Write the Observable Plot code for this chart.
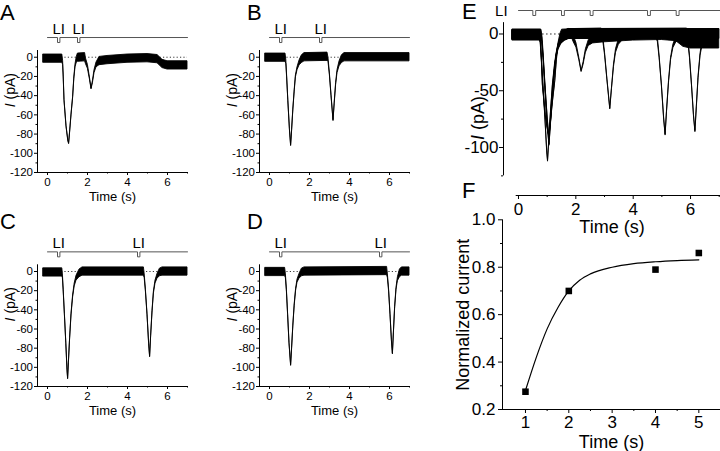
<!DOCTYPE html>
<html><head><meta charset="utf-8">
<script src="https://cdn.jsdelivr.net/npm/d3@7"></script>
<script src="https://cdn.jsdelivr.net/npm/@observablehq/plot@0.6"></script>
<style>
html,body{margin:0;padding:0;background:#fff;}
#fig{position:relative;width:720px;height:451px;overflow:hidden;font-family:'Liberation Sans',Arial,Helvetica,sans-serif;background:#fff;}
.letter{position:absolute;font-size:22px;line-height:1;color:#000;}
</style></head><body><div id="fig"></div>
<script>
// ---------- data ----------
// current traces: [time (s), centre current (pA), noise half-width (pA)]
const traceA = [
 [-0.2,-1.5,4.3],[0.74,-1.5,4.3],[0.78,-6,2],[0.81,-20,1],[0.85,-45,0.5],[0.95,-72,0.5],[1.04,-87,0.5],[1.08,-90,0.5],
 [1.13,-78,0.5],[1.2,-60,0.5],[1.28,-42,0.6],[1.34,-22,1],[1.4,-9,1.5],[1.46,-3,3],[1.52,-0.5,4.3],
 [1.88,0,4.3],[1.92,-4,3],[2.02,-10,2],[2.12,-22,1],[2.2,-33,0.5],[2.27,-26,1],[2.35,-15,1.5],[2.45,-8,2.5],[2.6,-4,4.3],
 [3,-3,4.3],[4,-1.5,4.3],[5,-1,4.3],[5.5,-2,4.3],[5.75,-7,4.3],[6,-8.5,4.3],[7,-8.5,4.3]
];
const traceB = [
 [-0.2,-0.5,4.3],[0.8,-0.5,4.3],[0.84,-5,2],[0.88,-20,1],[0.94,-45,0.5],[1.02,-75,0.5],[1.08,-92,0.5],[1.13,-76,0.5],
 [1.19,-55,0.5],[1.26,-35,0.8],[1.32,-20,1],[1.4,-12,1.5],[1.5,-6,2.5],[1.62,-2,4],[1.75,0,4.3],
 [2.9,0.5,4.3],[2.95,-3,2],[3.02,-18,1],[3.1,-40,0.5],[3.2,-66,0.5],[3.26,-48,0.5],[3.33,-28,1],[3.4,-15,1.5],
 [3.5,-7,2.5],[3.62,-2,4],[3.75,0,4.3],[7,0,4.3]
];
const traceC = [
 [-0.2,-1,4.3],[0.74,-1,4.3],[0.77,-5,2],[0.81,-20,1],[0.87,-45,0.5],[0.94,-75,0.5],[1.0,-103,0.5],[1.03,-112,0.5],
 [1.07,-95,0.5],[1.13,-70,0.5],[1.2,-45,0.8],[1.28,-26,1],[1.36,-14,1.5],[1.45,-7,2.5],[1.6,-2,4],[1.75,0,4.3],
 [4.82,0,4.3],[4.86,-5,2],[4.92,-20,1],[5.0,-45,0.5],[5.08,-75,0.5],[5.13,-89,0.5],[5.18,-68,0.5],[5.25,-42,0.8],
 [5.32,-22,1],[5.4,-11,1.5],[5.5,-5,2.5],[5.62,-1,4],[5.75,0,4.3],[7,0,4.3]
];
const traceD = [
 [-0.2,-0.5,4.3],[0.78,-0.5,4.3],[0.82,-5,2],[0.87,-20,1],[0.93,-45,0.5],[1.0,-75,0.5],[1.08,-98,0.5],[1.13,-80,0.5],
 [1.19,-57,0.5],[1.26,-35,0.8],[1.33,-19,1],[1.4,-10,1.5],[1.5,-5,2.5],[1.62,-1,4],[1.75,0,4.3],
 [5.88,0.5,4.3],[5.92,-5,2],[5.98,-20,1],[6.05,-45,0.5],[6.12,-72,0.5],[6.17,-86,0.5],[6.22,-64,0.5],[6.28,-38,0.8],
 [6.35,-18,1],[6.42,-8,2],[6.52,-2,4],[6.62,0,4.3],[7,0,4.3]
];
// light stimulus onsets (s)
const stimA = [0.5, 1.5];
const stimB = [0.5, 2.5];
const stimC = [0.5, 4.5];
const stimD = [0.5, 5.5];
const stimE = [0.5, 1.5, 2.5, 4.5, 5.5];
// panel F
const fTime = [1, 2, 4, 5];
const fNorm = [0.275, 0.70, 0.79, 0.86];
const fitTime = [1, 1.25, 1.5, 1.75, 2, 2.25, 2.5, 3, 3.5, 4, 4.5, 5];
const fitNorm = [0.28, 0.42, 0.54, 0.63, 0.70, 0.745, 0.772, 0.80, 0.815, 0.823, 0.828, 0.831];
// ticks
const smallYTicks = [-120, -100, -80, -60, -40, -20, 0];
const smallYMinor = [-110, -90, -70, -50, -30, -10];
const smallXTicks = [0, 2, 4, 6];
const smallXMinor = [1, 3, 5, 7];
const eYTicks = [0, -50, -100];
const eYMinor = [-25, -75, -125];
const eXTicks = [0, 2, 4, 6];
const eXMinor = [1, 3, 5, 7];
const fYTicks = [0.2, 0.4, 0.6, 0.8, 1.0];
const fYMinor = [0.3, 0.5, 0.7, 0.9];
const fXTicks = [1, 2, 3, 4, 5];
const fXMinor = [1.5, 2.5, 3.5, 4.5, 5.5];

// ---------- drawing ----------
const FONT = "'Liberation Sans', Arial, Helvetica, sans-serif";
const fig = document.getElementById("fig");
function place(node, left, top) {
  node.style.position = "absolute";
  node.style.left = left + "px";
  node.style.top = top + "px";
  fig.appendChild(node);
}
function letter(ch, left, top) {
  const d = document.createElement("div");
  d.className = "letter"; d.textContent = ch;
  d.style.left = left + "px"; d.style.top = top + "px";
  fig.appendChild(d);
}
const lo = d => d[1] - d[2], hi = d => d[1] + d[2];
function stimPath(pulses, S, P, w, t0, t1) {
  const pts = [[t0, S]];
  for (const p of pulses) pts.push([p, S], [p, P], [p + w, P], [p + w, S]);
  pts.push([t1, S]);
  return pts;
}
const numFmt = d => String(d);
const blank = () => "";
const baseStyle = {background: "transparent", overflow: "visible", fontFamily: FONT, color: "#000"};

function traceMark(tr) {
  return Plot.areaY(tr, {x: d => d[0], y1: lo, y2: hi, fill: "#000", stroke: "#000", strokeWidth: 0.9});
}

function smallPanel(trace, pulses, ml, height, mt, fb) {
  return Plot.plot({
    width: 230, height, marginLeft: ml, marginRight: 230 - ml - 150, marginTop: mt, marginBottom: height - fb,
    x: {domain: [-0.5, 7]}, y: {domain: [-120, 7]},
    style: baseStyle,
    marks: [
      Plot.ruleY([0], {x1: 0.7, x2: 7, stroke: "#222", strokeDasharray: "1.2,2.2", strokeWidth: 0.9}),
      traceMark(trace),
      Plot.line(stimPath(pulses, 20.5, 15.3, 0.12, 0, 7), {x: d => d[0], y: d => d[1], stroke: "#555", strokeWidth: 1}),
      Plot.text(pulses, {x: p => p + 0.06, y: () => 29.3, text: () => "LI", fontSize: 15, textAnchor: "middle", lineAnchor: "middle"}),
      Plot.ruleX([-0.5], {y1: -120, y2: 7, stroke: "#000"}),
      Plot.ruleY([-120], {x1: -0.5, x2: 7, stroke: "#000"}),
      Plot.axisY({ticks: smallYTicks, tickSize: 3, tickPadding: 1.5, fontSize: 11.5, tickFormat: numFmt, label: null}),
      Plot.axisY({ticks: smallYMinor, tickSize: 1.5, tickFormat: blank, label: null}),
      Plot.axisX({ticks: smallXTicks, tickSize: 3, tickPadding: 2.5, fontSize: 11.5, tickFormat: numFmt, label: null}),
      Plot.axisX({ticks: smallXMinor, tickSize: 1.5, tickFormat: blank, label: null}),
      Plot.text(["Time (s)"], {frameAnchor: "bottom", dy: 24.5, text: d => d, fontSize: 13, lineAnchor: "middle", textAnchor: "middle"}),
      Plot.text(["I"], {frameAnchor: "left", y: () => -48, dx: -27, rotate: -90, text: d => d, textAnchor: "end", lineAnchor: "middle", fontStyle: "italic", fontSize: 14}),
      Plot.text([" (pA)"], {frameAnchor: "left", y: () => -48, dx: -27, rotate: -90, text: d => d, textAnchor: "start", lineAnchor: "middle", fontSize: 14})
    ]
  });
}

place(smallPanel(traceA, stimA, 37, 220, 50, 172), 0, 0);
place(smallPanel(traceB, stimB, 29, 220, 50, 172), 230, 0);
place(smallPanel(traceC, stimC, 37, 231, 44.3, 166), 0, 220);
place(smallPanel(traceD, stimD, 29, 231, 44.3, 166), 230, 220);

// Panel E: overlay of the four recordings
const plotE = Plot.plot({
  width: 280, height: 240, marginLeft: 63, marginRight: 0, marginTop: 22.15, marginBottom: 45,
  x: {domain: [-0.523, 7.045]}, y: {domain: [-142.3, 10]},
  style: baseStyle,
  marks: [
    Plot.ruleY([0], {x1: 0.7, x2: 7, stroke: "#222", strokeDasharray: "1.5,2.5", strokeWidth: 1}),
    traceMark(traceA), traceMark(traceB), traceMark(traceC), traceMark(traceD),
    Plot.line(stimPath(stimE, 20.7, 16.3, 0.1, 0, 7.045), {x: d => d[0], y: d => d[1], stroke: "#555", strokeWidth: 1}),
    Plot.text(["LI"], {x: () => -0.6, y: () => 19.8, text: d => d, fontSize: 15, textAnchor: "middle", lineAnchor: "middle"}),
    Plot.ruleX([-0.523], {y1: -125, y2: 10, stroke: "#000"}),
    Plot.ruleY([-142.3], {x1: -0.08, x2: 7.045, stroke: "#000"}),
    Plot.axisY({ticks: eYTicks, tickSize: 4, tickPadding: 1, fontSize: 17, tickFormat: numFmt, label: null}),
    Plot.axisY({ticks: eYMinor, tickSize: 2, tickFormat: blank, label: null}),
    Plot.axisX({ticks: eXTicks, tickSize: 4, tickPadding: 3.5, fontSize: 17, tickFormat: numFmt, label: null}),
    Plot.axisX({ticks: eXMinor, tickSize: 2, tickFormat: blank, label: null}),
    Plot.text(["Time (s)"], {frameAnchor: "bottom", dy: 32, text: d => d, fontSize: 18, lineAnchor: "middle", textAnchor: "middle"}),
    Plot.text(["I"], {frameAnchor: "left", y: () => -89, dx: -25, rotate: -90, text: d => d, textAnchor: "end", lineAnchor: "middle", fontStyle: "italic", fontSize: 18}),
    Plot.text([" (pA)"], {frameAnchor: "left", y: () => -89, dx: -25, rotate: -90, text: d => d, textAnchor: "start", lineAnchor: "middle", fontSize: 18})
  ]
});
place(plotE, 440, 0);

// Panel F
const fPts = fTime.map((t, i) => ({t, v: fNorm[i]}));
const fitPts = fitTime.map((t, i) => ({t, v: fitNorm[i]}));
const plotF = Plot.plot({
  width: 280, height: 251, marginLeft: 62, marginRight: 0, marginTop: 19.3, marginBottom: 42,
  x: {domain: [0.47, 5.5]}, y: {domain: [0.2, 1.0]},
  style: baseStyle,
  marks: [
    Plot.ruleX([0.47], {stroke: "#000"}),
    Plot.ruleY([0.2], {stroke: "#000"}),
    Plot.axisY({ticks: fYTicks, tickSize: 4, tickPadding: 3, fontSize: 17, tickFormat: d3.format(".1f"), label: null}),
    Plot.axisY({ticks: fYMinor, tickSize: 2, tickFormat: blank, label: null}),
    Plot.axisX({ticks: fXTicks, tickSize: 4, tickPadding: 2.7, fontSize: 17, tickFormat: numFmt, label: null}),
    Plot.axisX({ticks: fXMinor, tickSize: 2, tickFormat: blank, label: null}),
    Plot.line(fitPts, {x: "t", y: "v", curve: "monotone-x", stroke: "#000", strokeWidth: 1.2}),
    Plot.dot(fPts, {x: "t", y: "v", symbol: "square", r: 3.7, fill: "#000", stroke: "none"}),
    Plot.text(["Time (s)"], {frameAnchor: "bottom", dy: 32.7, text: d => d, fontSize: 18, lineAnchor: "middle", textAnchor: "middle"}),
    Plot.text(["Normalized current"], {frameAnchor: "left", y: () => 0.6, dx: -39, rotate: -90, text: d => d, textAnchor: "middle", lineAnchor: "middle", fontSize: 18})
  ]
});
place(plotF, 440, 200);

letter("A", 0, 2);
letter("B", 247, 2);
letter("C", 0, 211);
letter("D", 247, 211);
letter("E", 462, 1);
letter("F", 462, 180);
</script></body></html>
